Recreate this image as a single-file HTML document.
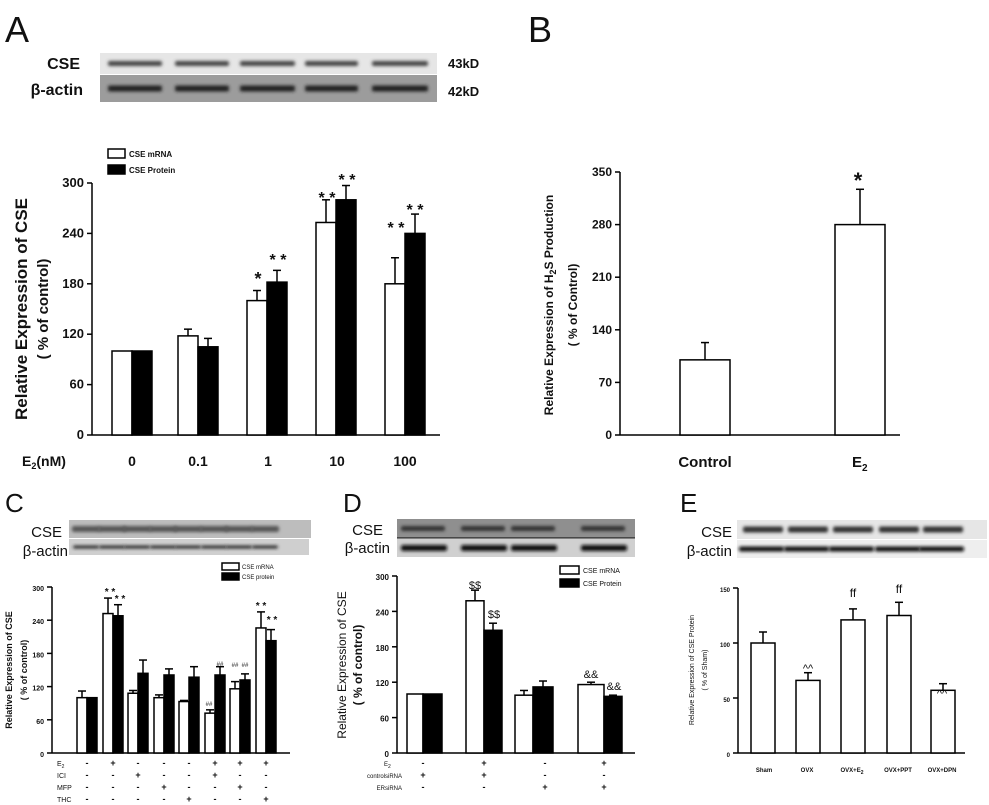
<!DOCTYPE html>
<html><head><meta charset="utf-8"><style>
html,body{margin:0;padding:0;background:#fff;}
svg{display:block;font-family:"Liberation Sans",sans-serif;}
</style></head><body>
<svg id="s" width="989" height="805" viewBox="0 0 989 805" xmlns="http://www.w3.org/2000/svg">
<defs><filter id="b1" x="-20%" y="-100%" width="140%" height="300%"><feGaussianBlur stdDeviation="1.5"/></filter></defs>
</svg>
<script>
const s=document.getElementById('s');let h='';
function T(x,y,t,sz,o){o=o||{};h+=`<text x="${x}" y="${y}" font-size="${sz}" ${o.b?'font-weight="bold"':''} text-anchor="${o.a||'start'}" ${o.r?`transform="rotate(-90 ${x} ${y})"`:''} fill="#111">${t}</text>`;}
function L(x1,y1,x2,y2,w){h+=`<line x1="${x1}" y1="${y1}" x2="${x2}" y2="${y2}" stroke="#000" stroke-width="${w||1.5}"/>`;}
function R(x,y,w,hh,f){h+=`<rect x="${x}" y="${y}" width="${w}" height="${hh}" fill="${f}" stroke="#000" stroke-width="1.5"/>`;}
function blot(x,y,w,hh,bg,bands,bh,col){h+=`<rect x="${x}" y="${y}" width="${w}" height="${hh}" fill="${bg}"/>`;bands.forEach(b=>{h+=`<rect x="${b[0]}" y="${y+hh/2-bh/2}" width="${b[1]}" height="${bh}" rx="2" fill="${col}" filter="url(#b1)"/>`;});}
function axis(x0,yb,yt,x1,ticks,lab,fs){L(x0,yt,x0,yb);L(x0,yb,x1,yb);ticks.forEach((t,i)=>{let y=yb-(yb-yt)*i/(ticks.length-1);L(x0-5,y,x0,y);T(x0-8,y+4,t,fs,{a:'end',b:1});});}
function bar(x,w,yb,v,max,H,fill,err){let y=yb-v/max*H;let e=yb-err/max*H;if(err>v){L(x+w/2,y,x+w/2,e);L(x+w/2-4,e,x+w/2+4,e);}R(x,y,w,v/max*H,fill);}
// Panel A
T(5,42,'A',36);
blot(100,53,337,21,'#e6e6e6',[[108,54],[175,54],[240,55],[305,53],[372,56]],5,'#444');
blot(100,75,337,27,'#9c9c9c',[[108,54],[175,54],[240,55],[305,53],[372,56]],6,'#222');
T(80,69,'CSE',16,{a:'end',b:1});T(83,95,'β-actin',16,{a:'end',b:1});T(448,68,'43kD',13,{b:1});T(448,96,'42kD',13,{b:1});
R(108,149,17,9,'#fff');R(108,165,17,9,'#000');T(129,157,'CSE mRNA',8,{b:1});T(129,173,'CSE Protein',8,{b:1});
axis(92,435,183,440,[0,60,120,180,240,300],'',13);
let A=[[112,100,100,100,100],[178,118,126,105,115],[247,160,172,182,196],[316,253,280,280,297],[385,180,211,240,263]];
A.forEach(g=>{bar(g[0],20,435,g[1],300,252,'#fff',g[2]);bar(g[0]+20,20,435,g[3],300,252,'#000',g[4]);});
T(258,285,'*',18,{a:'middle',b:1});T(278,265,'* *',16,{a:'middle',b:1});T(327,203,'* *',16,{a:'middle',b:1});T(347,185,'* *',16,{a:'middle',b:1});T(396,233,'* *',16,{a:'middle',b:1});T(415,215,'* *',16,{a:'middle',b:1});
T(22,466,'E<tspan font-size="9" dy="3">2</tspan><tspan dy="-3">(nM)</tspan>',14,{b:1});
[['0',132],['0.1',198],['1',268],['10',337],['100',405]].forEach(a=>T(a[1],466,a[0],14,{a:'middle',b:1}));
T(27,309,'Relative Expression of CSE',17,{a:'middle',b:1,r:1});T(48,309,'( % of control)',15,{a:'middle',b:1,r:1});
// Panel B
T(528,42,'B',36);
axis(620,435,172,900,[0,70,140,210,280,350],'',12);
bar(680,50,435,100,350,263,'#fff',123);bar(835,50,435,280,350,263,'#fff',327);
T(858,188,'*',22,{a:'middle',b:1});
T(705,467,'Control',15,{a:'middle',b:1});T(852,467,'E<tspan font-size="10" dy="4">2</tspan>',15,{b:1});
T(553,305,'Relative Expression of H<tspan font-size="9" dy="3">2</tspan><tspan dy="-3">S Production</tspan>',12,{a:'middle',b:1,r:1});T(577,305,'( % of Control)',12,{a:'middle',b:1,r:1});
// Panel C
T(5,512,'C',26);
let cc=[87,113,138,164,189,215,240,266];
blot(69,520,242,18,'#bdbdbd',cc.map(c=>[c-15,28]),6,'#555');
blot(69,539,240,16,'#cfcfcf',cc.map(c=>[c-14,26]),3,'#222');
T(62,537,'CSE',15,{a:'end'});T(68,556,'β-actin',15,{a:'end'});
R(222,563,17,7,'#fff');R(222,573,17,7,'#000');T(242,569,'CSE mRNA',6);T(242,579,'CSE protein',6);
axis(52,753,587,290,[0,60,120,180,240,300],'',7);
let Cw=[100,252,108,100,93,72,116,226],Cb=[100,248,144,141,137,141,132,203],Cwe=[112,280,113,105,95,78,129,255],Cbe=[100,268,168,152,156,156,143,223];
cc.forEach((c,i)=>{bar(c-10,10,753,Cw[i],300,166,'#fff',Cwe[i]);bar(c,10,753,Cb[i],300,166,'#000',Cbe[i]);});
T(110,595,'* *',10,{a:'middle',b:1});T(120,602,'* *',10,{a:'middle',b:1});T(261,609,'* *',10,{a:'middle',b:1});T(272,623,'* *',10,{a:'middle',b:1});
T(209,706,'##',6,{a:'middle'});T(220,666,'##',6,{a:'middle'});T(235,667,'##',6,{a:'middle'});T(245,667,'##',6,{a:'middle'});
let rows=[['E<tspan font-size="5" dy="2">2</tspan>','-+---+++'],['ICI','--+--+--'],['MFP','---+--+-'],['THC','----+--+']];
rows.forEach((r,j)=>{let y=766+j*12;T(57,y,r[0],7);[...r[1]].forEach((ch,i)=>T(cc[i],y,ch==='+'?'+':'-',9,{a:'middle',b:1}));});
T(12,670,'Relative Expression of CSE',9,{a:'middle',b:1,r:1});T(27,670,'( % of control)',9,{a:'middle',b:1,r:1});
// Panel D
T(343,512,'D',26);
let dc=[424,484,534,604];
blot(397,519,238,19,'#8f8f8f',dc.map(c=>[c-23,44]),5,'#333');
blot(397,539,238,18,'#d0d0d0',dc.map(c=>[c-23,46]),6,'#111');
L(397,538,635,538,1);
T(383,535,'CSE',15,{a:'end'});T(390,553,'β-actin',15,{a:'end'});
R(560,566,19,8,'#fff');R(560,579,19,8,'#000');T(583,573,'CSE mRNA',7);T(583,586,'CSE Protein',7);
axis(397,753,576,635,[0,60,120,180,240,300],'',8);
let Dx=[407,466,515,578],Dw=[100,258,98,116],Db=[100,208,112,96],Dwe=[100,276,106,120],Dbe=[100,220,122,98],Dww=[[16,19],[18,18],[18,20],[26,18]];
Dx.forEach((x,i)=>{bar(x,Dww[i][0],753,Dw[i],300,177,'#fff',Dwe[i]);bar(x+Dww[i][0],Dww[i][1],753,Db[i],300,177,'#000',Dbe[i]);});
T(475,589,'$$',11,{a:'middle'});T(494,618,'$$',11,{a:'middle'});T(591,678,'&amp;&amp;',11,{a:'middle'});T(614,690,'&amp;&amp;',11,{a:'middle'});
let drows=[['E<tspan font-size="5" dy="2">2</tspan>','-+-+'],['controlsiRNA','++--'],['ERsiRNA','--++']];
let dsx=[423,484,545,604];
drows.forEach((r,j)=>{let y=766+j*12;T(j==0?384:402,y,r[0],6,{a:j==0?'start':'end'});[...r[1]].forEach((ch,i)=>T(dsx[i],y,ch,9,{a:'middle',b:1}));});
T(346,665,'Relative Expression of CSE',12,{a:'middle',r:1});T(362,665,'( % of control)',12,{a:'middle',b:1,r:1});
// Panel E
T(680,512,'E',26);
let ex=[751,796,841,887,931];
blot(737,520,250,19,'#e6e6e6',ex.map(x=>[x-8,40]),6,'#333');
blot(737,540,250,18,'#eeeeee',ex.map(x=>[x-12,45]),5,'#111');
T(732,537,'CSE',15,{a:'end'});T(732,556,'β-actin',15,{a:'end'});
axis(738,753,588,965,[0,50,100,150],'',6);
let Ev=[100,66,121,125,57],Ee=[110,73,131,137,63];
ex.forEach((x,i)=>bar(x,24,753,Ev[i],150,165,'#fff',Ee[i]));
T(808,672,'^^',11,{a:'middle'});T(853,597,'ff',12,{a:'middle',b:0});T(899,593,'ff',12,{a:'middle'});T(942,697,'^^',11,{a:'middle'});
[['Sham',764],['OVX',807],['OVX+E<tspan font-size="5" dy="2">2</tspan>',852],['OVX+PPT',898],['OVX+DPN',942]].forEach(a=>T(a[1],772,a[0],6,{a:'middle',b:1}));
T(694,670,'Relative Expression of CSE Protein',7,{a:'middle',r:1});T(707,670,'( % of Sham)',7,{a:'middle',r:1});
s.insertAdjacentHTML('beforeend',h);
</script>
</body></html>
